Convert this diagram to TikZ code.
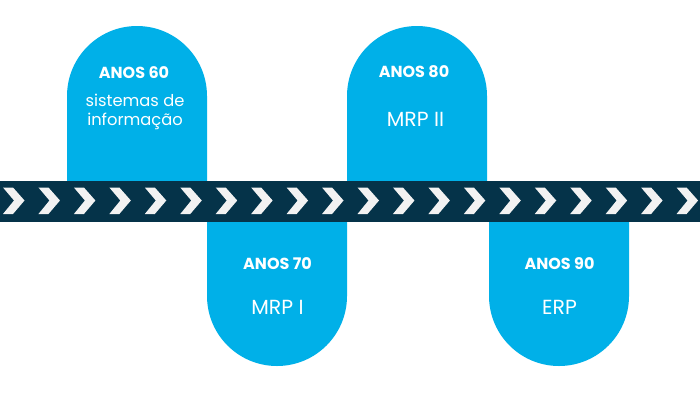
\documentclass[tikz,border=0pt]{standalone}
\usepackage{fontspec}
\setmainfont{Poppins}
\newfontfamily\popbold{Poppins}[UprightFont=* Bold]
\definecolor{pillblue}{HTML}{00B0E8}
\definecolor{banddark}{HTML}{053349}
\definecolor{chevwhite}{HTML}{F2F2F2}
\tikzset{
  pill/.style={fill=pillblue,draw=none},
  heading/.style={text=white,font=\popbold\fontsize{16pt}{18pt}\selectfont,inner sep=0pt,anchor=center},
  bodysmall/.style={text=white,font=\fontsize{16.3pt}{19.5pt}\selectfont,inner sep=0pt,anchor=center,align=center},
  bodylarge/.style={text=white,font=\fontsize{20.4pt}{22pt}\selectfont,inner sep=0pt,anchor=center,align=center},
  chev/.style={fill=chevwhite,draw=none}
}
\begin{document}
\begin{tikzpicture}[x=1pt,y=-1pt]
\useasboundingbox (0,0) rectangle (700,400);
\fill[white] (0,0) rectangle (700,400);
% pills
\fill[pill] (67,190) -- (67,96) arc[start angle=180,end angle=360,radius=70] -- (207,190) -- cycle;
\fill[pill] (347,190) -- (347,96) arc[start angle=180,end angle=360,radius=70] -- (487,190) -- cycle;
\fill[pill] (207,210) -- (207,296) arc[start angle=180,end angle=0,radius=70] -- (347,210) -- cycle;
\fill[pill] (489,210) -- (489,296) arc[start angle=180,end angle=0,radius=70] -- (629,210) -- cycle;
% band
\fill[banddark] (0,181) rectangle (700,221.5);
\foreach \i in {0,...,19}{
  \fill[chev,shift={(35.45*\i,0)}] (3,187.5) -- (13,187.5) -- (24.5,200.5) -- (13,214) -- (3,214) -- (14,200.5) -- cycle;
}
% text
\node[heading] (a60) at (134,73) {ANOS 60};
\node[bodysmall] (t60) at (135,112) {sistemas de\\informação};
\node[heading] (a80) at (414,72) {ANOS 80};
\node[bodylarge] (t80) at (415.5,119) {MRP II};
\node[heading] (a70) at (277.5,264) {ANOS 70};
\node[bodylarge] (t70) at (277.5,307) {MRP I};
\node[heading] (a90) at (559.5,264) {ANOS 90};
\node[bodylarge] (t90) at (559.5,307) {ERP};
\end{tikzpicture}
\end{document}
